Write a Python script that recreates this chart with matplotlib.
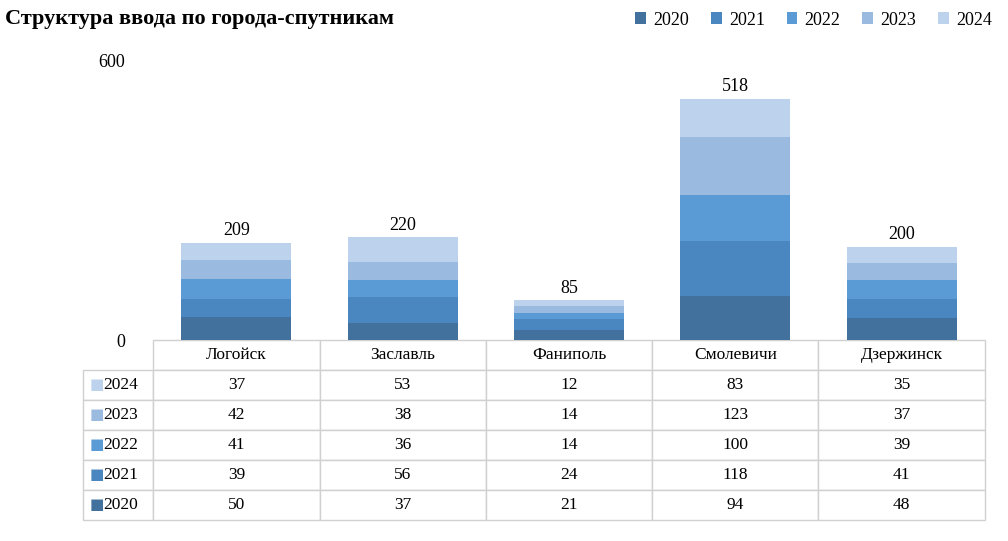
import matplotlib
matplotlib.use("Agg")
import matplotlib.pyplot as plt
import numpy as np

plt.rcParams['font.family'] = ['Liberation Serif', 'DejaVu Serif']

cities = ['Логойск', 'Заславль', 'Фаниполь', 'Смолевичи', 'Дзержинск']
years = ['2020', '2021', '2022', '2023', '2024']
v2020 = [50, 37, 21, 94, 48]
v2021 = [39, 56, 24, 118, 41]
v2022 = [41, 36, 14, 100, 39]
v2023 = [42, 38, 14, 123, 37]
v2024 = [37, 53, 12, 83, 35]
series = [v2020, v2021, v2022, v2023, v2024]
colors = ['#41719C', '#4A86C0', '#5B9BD5', '#9BBAE0', '#BDD2EC']

fig = plt.figure(figsize=(10.08, 5.41), dpi=100)
ax = fig.add_axes([0.152, 0.3715, 0.825, 0.517])
x = np.arange(len(cities))
bottom = np.zeros(len(cities))
for s, c, yr in zip(series, colors, years):
    ax.bar(x, s, 0.66, bottom=bottom, color=c, label=yr)
    bottom += np.array(s)
for xi, t in zip(x, bottom):
    ax.text(xi, t + 8, f'{int(t)}', ha='center', va='bottom', fontsize=13)
ax.set_xlim(-0.5, 4.5)
ax.set_ylim(0, 600)
ax.set_yticks([0, 600])
ax.tick_params(axis='y', length=0, labelsize=13, pad=20)
ax.set_xticks([])
for sp in ax.spines.values():
    sp.set_visible(False)

# table
rows = list(reversed(range(5)))
cell_text = [[''] + [str(series[r][j]) for j in range(5)] for r in rows]
axh = 280.0
x0 = (83 - 153) / 832
w = (985 - 83) / 832
tab = ax.table(cellText=cell_text, colLabels=[''] + cities, cellLoc='center',
               bbox=[x0, -180 / axh, w, 180 / axh])
tab.auto_set_font_size(False)
tab.set_fontsize(12.5)
cw0 = 70 / 902
cw = (1 - cw0) / 5
for (r, c), cell in tab.get_celld().items():
    cell.set_edgecolor('#d0d0d0')
    cell.set_width(cw0 if c == 0 else cw)
    if r == 0 and c == 0:
        cell.visible_edges = ''
for i, r in enumerate(rows):
    yc = -(370 + 15 + 30 * i - 340) / axh
    ax.text(x0 + 0.008, yc, '■', color=colors[r], fontsize=11, va='center', ha='left',
            transform=ax.transAxes, family='DejaVu Sans')
    ax.text(x0 + 0.024, yc, years[r], fontsize=12.5, va='center', ha='left',
            transform=ax.transAxes)

fig.text(0.005, 0.965, 'Структура ввода по города-спутникам', fontsize=16,
         fontweight='bold', va='center', ha='left')
leg = fig.legend(loc='center right', bbox_to_anchor=(1.0, 0.963), ncol=5, frameon=False,
                 fontsize=13, handlelength=0.6, handleheight=0.6, columnspacing=1.2,
                 handletextpad=0.4)
fig.savefig('out.png', dpi=100)
